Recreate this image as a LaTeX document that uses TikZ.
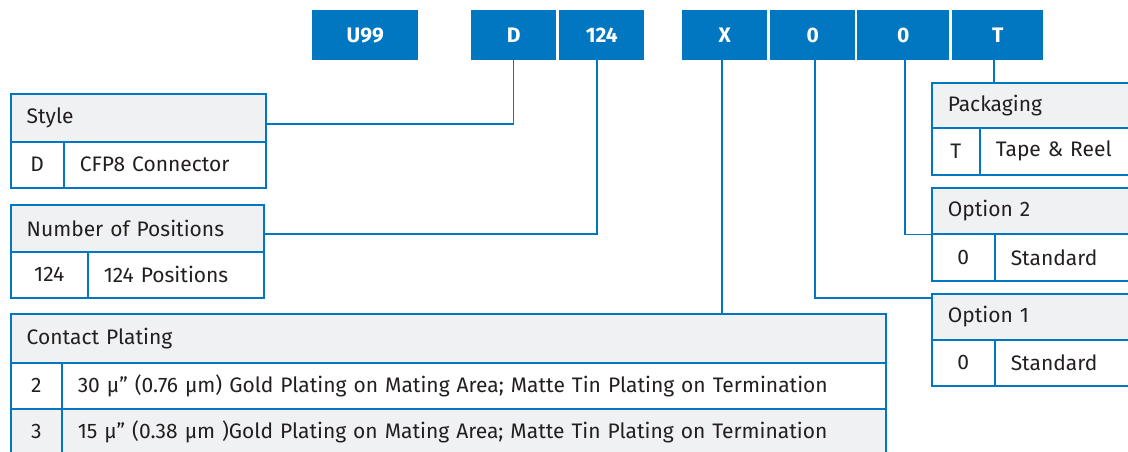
\documentclass[tikz,border=0pt]{standalone}
\usepackage{fontspec}
\setmainfont{Fira Sans}
\definecolor{pblue}{HTML}{0077C0}
\definecolor{pgray}{HTML}{F0F1F3}
\definecolor{ptext}{HTML}{231F20}
\begin{document}
\begin{tikzpicture}[x=1pt,y=-1pt,
  every node/.style={font=\fontsize{21}{25}\selectfont, text=ptext},
  topbox/.style={fill=pblue, anchor=north west, inner sep=0, minimum height=50pt,
    font=\fontsize{21}{25}\selectfont\bfseries, text=white},
  cell/.style={draw=pblue, line width=1.5pt, anchor=north west, inner ysep=0, inner xsep=16pt, align=left},
  hdr/.style={cell, fill=pgray},
  code/.style={draw=pblue, line width=1.5pt, anchor=north west, inner sep=0, fill=white},
  codeg/.style={code, fill=pgray},
  conn/.style={draw=pblue, line width=1.5pt}]
\useasboundingbox (0,0) rectangle (1128,451);
\clip (0,0) rectangle (1128,451);
% top code boxes
\node[topbox, minimum width=106pt] (u99) at (312,10) {U99};
\node[topbox, minimum width=85pt] (dtop) at (471,10) {D};
\node[topbox, minimum width=85pt] (ntop) at (559,10) {124};
\node[topbox, minimum width=85pt] (xtop) at (682,10) {X};
\node[topbox, minimum width=85pt] (z1top) at (770,10) {0};
\node[topbox, minimum width=92pt] (z2top) at (857,10) {0};
\node[topbox, minimum width=91pt] (ttop) at (952,10) {T};
% Style
\node[hdr, minimum height=48pt, text width=223pt] (styleH) at (10,93) {Style};
\node[code, minimum width=53pt, minimum height=46pt] (styleC) at (10,141) {D};
\node[cell, minimum height=46pt, text width=170pt] (styleD) at (63,141) {CFP8 Connector};
% Number of positions
\node[hdr, minimum height=47pt, text width=221pt] (posH) at (10,204) {Number of Positions};
\node[code, minimum width=77pt, minimum height=46pt] (posC) at (10,251) {124};
\node[cell, minimum height=46pt, text width=144pt] (posD) at (87,251) {124 Positions};
% Contact plating
\node[hdr, minimum height=49pt, text width=843pt] (cpH) at (10,313) {Contact Plating};
\node[code, minimum width=51pt, minimum height=46pt] (cpC2) at (10,362) {2};
\node[cell, minimum height=46pt, text width=792pt] (cpD2) at (61,362) {30 µ” (0.76 µm) Gold Plating on Mating Area; Matte Tin Plating on Termination};
\node[codeg, minimum width=51pt, minimum height=46pt] (cpC3) at (10,408) {3};
\node[hdr, minimum height=46pt, text width=792pt] (cpD3) at (61,408) {15 µ” (0.38 µm )Gold Plating on Mating Area; Matte Tin Plating on Termination};
% Packaging
\node[hdr, minimum height=45pt, text width=180pt] (pkH) at (931,82) {Packaging};
\node[code, minimum width=48pt, minimum height=47pt] (pkC) at (931,127) {T};
\node[cell, minimum height=47pt, text width=140pt] (pkD) at (979,127) {Tape \& Reel};
% Option 2
\node[hdr, minimum height=46pt, text width=180pt] (o2H) at (931,187) {Option 2};
\node[code, minimum width=63pt, minimum height=47pt] (o2C) at (931,233) {0};
\node[cell, minimum height=47pt, text width=140pt] (o2D) at (994,233) {Standard};
% Option 1
\node[hdr, minimum height=46pt, text width=180pt] (o1H) at (931,293) {Option 1};
\node[code, minimum width=63pt, minimum height=46pt] (o1C) at (931,339) {0};
\node[cell, minimum height=46pt, text width=140pt] (o1D) at (994,339) {Standard};
% connectors
\draw[conn] (dtop.south) |- ([yshift=-6pt]styleH.east);
\draw[conn] ([xshift=-4.5pt]ntop.south) |- ([yshift=-5.5pt]posH.east);
\draw[conn] ([xshift=-2.5pt]xtop.south) -- ([xshift=-2.5pt]xtop.south |- cpH.north);
\draw[conn] ([xshift=2.5pt]z1top.south) |- ([yshift=-5pt]o1H.north west);
\draw[conn] ([xshift=2pt]z2top.south) |- (o2H.south west);
\draw[conn] ([xshift=-3.5pt]ttop.south) -- ([xshift=-3.5pt]ttop.south |- pkH.north);
\end{tikzpicture}
\end{document}
